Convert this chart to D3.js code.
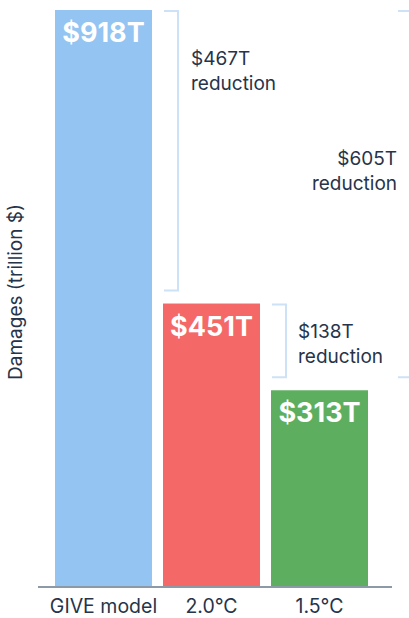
<!DOCTYPE html>
<html>
<head>
<meta charset="utf-8">
<script src="https://d3js.org/d3.v7.min.js"></script>
<style>
  body { margin: 0; background: #fff; }
  text { font-family: Inter, "Open Sans", sans-serif; }
</style>
</head>
<body>
<script>
  var width = 409;
  var height = 618;

  // data
  var categories = ["GIVE model", "2.0°C", "1.5°C"];
  var damages = [918, 451, 313];
  var barColors = ["#93c4f2", "#f56868", "#5daf5f"];
  var reductions = [
    { from: "GIVE model", to: "2.0°C", value: 467 },
    { from: "2.0°C", to: "1.5°C", value: 138 },
    { from: "GIVE model", to: "1.5°C", value: 605 }
  ];

  var svg = d3.select("body").append("svg")
    .attr("width", width)
    .attr("height", height);

  var x = d3.scaleBand().domain(categories).range([55, 368])
    .paddingInner(0.102).paddingOuter(0);
  var y = d3.scaleLinear().domain([0, 918]).range([587, 10]);

  var val = function (c) { return damages[categories.indexOf(c)]; };

  svg.selectAll("rect.bar")
    .data(categories)
    .enter().append("rect")
    .attr("class", "bar")
    .attr("x", function (d) { return x(d); })
    .attr("y", function (d) { return y(val(d)); })
    .attr("width", x.bandwidth())
    .attr("height", function (d) { return y(0) - y(val(d)); })
    .attr("fill", function (d, i) { return barColors[i]; });

  svg.selectAll("text.val")
    .data(categories)
    .enter().append("text")
    .attr("class", "val")
    .attr("x", function (d) { return x(d) + x.bandwidth() / 2; })
    .attr("y", function (d) { return y(val(d)) + 32; })
    .attr("text-anchor", "middle")
    .attr("fill", "#fff")
    .style("font-size", "27px")
    .style("font-weight", 700)
    .text(function (d) { return "$" + val(d) + "T"; });

  // baseline
  svg.append("line")
    .attr("x1", 38).attr("x2", 392)
    .attr("y1", y(0)).attr("y2", y(0))
    .attr("stroke", "#8c9aa8")
    .attr("stroke-width", 2);

  var xAxis = svg.append("g")
    .attr("transform", "translate(0," + y(0) + ")")
    .call(d3.axisBottom(x).tickSize(0).tickPadding(12));
  xAxis.select(".domain").remove();
  xAxis.selectAll("text")
    .style("font-size", "19.5px")
    .style("font-family", "Inter, sans-serif")
    .attr("fill", "#26344a");

  svg.append("text")
    .attr("transform", "translate(22,292) rotate(-90)")
    .attr("text-anchor", "middle")
    .attr("fill", "#26344a")
    .style("font-size", "19px")
    .text("Damages (trillion $)");

  // reduction brackets
  var bx = [178, 286, 412];
  var textPos = [
    { x: 191, y: 65, anchor: "start" },
    { x: 298, y: 338, anchor: "start" },
    { x: 397, y: 165, anchor: "end" }
  ];
  reductions.forEach(function (r, i) {
    var y1 = y(val(r.from)) + 1;
    var y2 = y(val(r.to)) - 13;
    svg.append("path")
      .attr("d", "M" + (bx[i] - 14) + "," + y1 + "H" + bx[i] + "V" + y2 + "H" + (bx[i] - 14))
      .attr("fill", "none")
      .attr("stroke", "#cde2f6")
      .attr("stroke-width", 2);
    var t = svg.append("text")
      .attr("x", textPos[i].x)
      .attr("y", textPos[i].y)
      .attr("text-anchor", textPos[i].anchor)
      .attr("fill", "#26344a")
      .style("font-size", "19px");
    t.append("tspan").attr("x", textPos[i].x).text("$" + r.value + "T");
    t.append("tspan").attr("x", textPos[i].x).attr("dy", 25).text("reduction");
  });
</script>
</body>
</html>
